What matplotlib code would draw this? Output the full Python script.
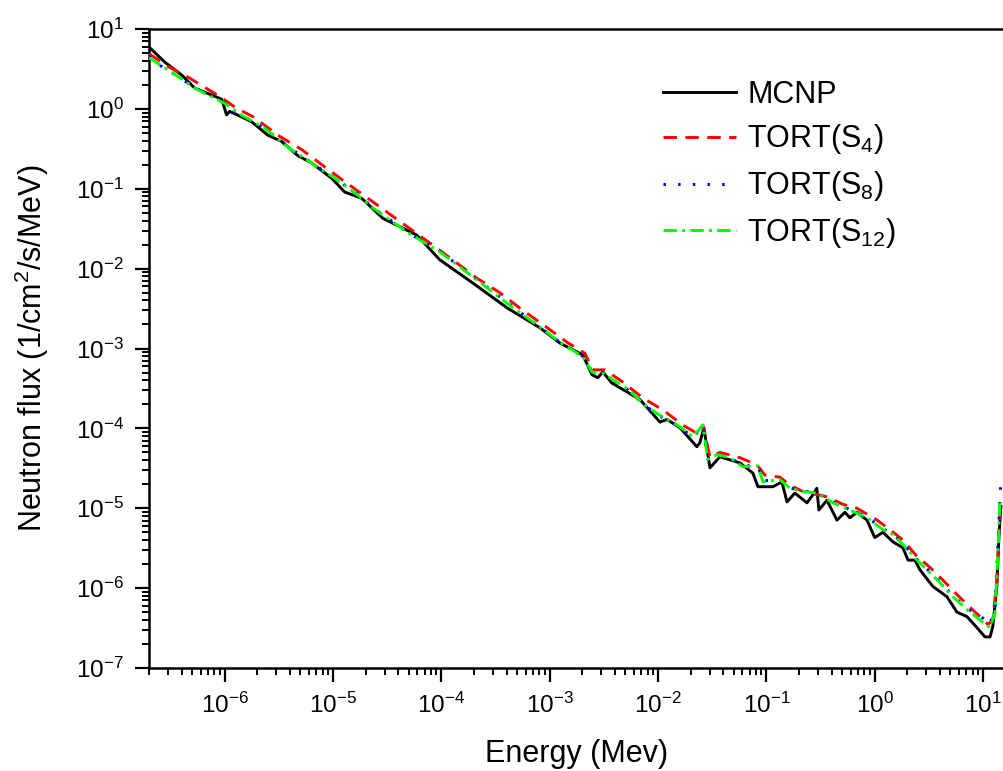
import numpy as np
import matplotlib
matplotlib.use("Agg")
import matplotlib.pyplot as plt
from matplotlib.ticker import FixedLocator, FuncFormatter, NullFormatter

plt.rcParams["font.family"] = ["Liberation Sans", "DejaVu Sans"]
plt.rcParams["mathtext.fontset"] = "custom"
plt.rcParams["mathtext.rm"] = "Liberation Sans"
plt.rcParams["mathtext.it"] = "Liberation Sans:italic"

# energies in MeV, flux in 1/cm2/s/MeV
mcnp_e = [2.0e-7, 2.79e-7, 4.01e-7, 5.28e-7, 7.59e-7, 9.38e-7, 1.04e-6, 1.11e-6,
          1.44e-6, 1.77e-6, 2.49e-6, 3.36e-6, 4.72e-6, 6.36e-6, 9.73e-6, 1.28e-5,
          1.84e-5, 2.88e-5, 5.93e-5, 9.66e-5, 1.95e-4, 4.02e-4, 8.11e-4, 1.24e-3,
          2.02e-3, 2.45e-3, 2.78e-3, 3.09e-3, 3.74e-3, 6.79e-3, 1.04e-2, 1.21e-2,
          1.59e-2, 2.28e-2, 2.43e-2, 2.65e-2, 3.01e-2, 3.72e-2, 5.69e-2, 7.50e-2,
          8.35e-2, 0.115, 0.139, 0.155, 0.183, 0.237, 0.269, 0.292, 0.305, 0.362,
          0.448, 0.531, 0.590, 0.685, 0.848, 1.00, 1.19, 1.47, 1.82, 2.03, 2.35,
          2.61, 3.44, 4.64, 5.74, 7.10, 8.79, 10.4, 11.6, 12.3, 13.4, 14.0, 14.6]
mcnp_f = [5.96, 3.86, 2.65, 1.82, 1.49, 1.32, 0.84, 0.93,
          0.79, 0.69, 0.47, 0.39, 0.26, 0.21, 0.135, 0.091,
          0.076, 0.0427, 0.0263, 0.0129, 6.6e-3, 3.24e-3, 1.82e-3, 1.17e-3,
          8.3e-4, 4.7e-4, 4.3e-4, 5.1e-4, 3.7e-4, 2.3e-4, 1.2e-4, 1.29e-4,
          1.02e-4, 5.9e-5, 6.6e-5, 1.02e-4, 3.2e-5, 4.4e-5, 3.7e-5, 2.75e-5,
          1.86e-5, 1.86e-5, 2.14e-5, 1.2e-5, 1.55e-5, 1.17e-5, 1.48e-5, 1.78e-5, 9.5e-6, 1.26e-5,
          7.1e-6, 8.9e-6, 7.6e-6, 8.9e-6, 7.1e-6, 4.3e-6, 5.0e-6, 3.8e-6, 3.2e-6, 2.24e-6, 2.24e-6,
          1.7e-6, 1.05e-6, 7.8e-7, 5.0e-7, 4.4e-7, 3.2e-7, 2.45e-7, 2.45e-7, 3.3e-7, 1.05e-6, 4.4e-6, 1.05e-5]

s4_e = [2.0e-7, 3.10e-7, 4.55e-7, 6.53e-7, 9.38e-7, 1.24e-6, 1.89e-6, 3.09e-6,
        5.14e-6, 7.87e-6, 1.28e-5, 3.13e-5, 7.82e-5, 1.27e-4, 2.12e-4, 3.46e-4,
        5.65e-4, 8.63e-4, 1.44e-3, 2.11e-3, 2.50e-3, 3.23e-3, 4.73e-3, 7.24e-3,
        1.11e-2, 1.69e-2, 2.28e-2, 2.59e-2, 3.01e-2, 3.72e-2, 5.69e-2, 8.17e-2,
        9.69e-2, 0.133, 0.165, 0.217, 0.370, 0.508, 0.685, 1.05, 1.38, 1.82,
        2.45, 3.24, 4.26, 5.74, 7.57, 9.36, 11.1, 12.3, 13.4, 14.3]
s4_f = [4.9, 3.31, 2.51, 1.86, 1.38, 1.05, 0.776, 0.468,
        0.309, 0.2, 0.123, 0.0513, 0.0209, 0.0129, 7.6e-3, 5.0e-3,
        3.0e-3, 2.0e-3, 1.2e-3, 8.7e-4, 5.4e-4, 5.4e-4, 3.8e-4, 2.4e-4,
        1.7e-4, 1.1e-4, 8.7e-5, 1.1e-4, 4.4e-5, 5.0e-5, 4.3e-5, 3.5e-5,
        2.6e-5, 2.45e-5, 1.95e-5, 1.62e-5, 1.38e-5, 1.12e-5, 1.0e-5, 7.1e-6, 5.4e-6, 4.0e-6,
        2.5e-6, 1.82e-6, 1.26e-6, 8.3e-7, 5.75e-7, 4.4e-7, 3.5e-7, 4.0e-7, 1.26e-6, 1.0e-5]

s8_e = [2.0e-7, 2.41e-7, 3.24e-7, 5.28e-7, 1.0e-6, 1.11e-6, 1.44e-6, 2.34e-6,
        3.82e-6, 6.36e-6, 1.04e-5, 1.69e-5, 2.33e-5, 4.80e-5, 9.66e-5, 1.95e-4,
        4.02e-4, 8.11e-4, 1.24e-3, 2.02e-3, 2.45e-3, 3.09e-3, 5.15e-3, 7.89e-3,
        1.11e-2, 1.59e-2, 2.10e-2, 2.59e-2, 2.88e-2, 3.49e-2, 4.60e-2, 6.07e-2,
        8.35e-2, 9.29e-2, 0.133, 0.165, 0.217, 0.292, 0.411, 0.590, 0.848, 1.19,
        1.47, 1.82, 2.45, 3.03, 4.00, 5.27, 7.10, 8.79, 9.98, 11.6, 12.9, 13.7, 14.6]
s8_f = [4.6, 3.63, 2.85, 1.85, 1.2, 0.95, 0.82, 0.57,
        0.34, 0.21, 0.135, 0.085, 0.058, 0.029, 0.0165, 8.0e-3,
        3.8e-3, 1.85e-3, 1.2e-3, 8.0e-4, 5.2e-4, 4.9e-4, 3.1e-4, 1.85e-4,
        1.35e-4, 1.05e-4, 7.6e-5, 1.08e-4, 4.1e-5, 4.7e-5, 4.3e-5, 3.4e-5,
        3.4e-5, 2.2e-5, 2.3e-5, 1.8e-5, 1.65e-5, 1.55e-5, 1.2e-5, 9.6e-6, 7.8e-6, 5.5e-6,
        4.8e-6, 3.6e-6, 2.3e-6, 1.75e-6, 1.2e-6, 8.0e-7, 5.6e-7, 4.7e-7, 4.2e-7, 3.5e-7, 6.0e-7, 3.5e-6, 2.3e-5]

s12_e = [2.0e-7, 3.24e-7, 5.28e-7, 1.0e-6, 1.44e-6, 2.34e-6, 3.82e-6, 6.36e-6,
         1.04e-5, 1.69e-5, 2.33e-5, 4.80e-5, 9.66e-5, 1.95e-4, 4.02e-4, 8.11e-4,
         1.24e-3, 2.02e-3, 2.45e-3, 3.09e-3, 5.15e-3, 7.89e-3, 1.11e-2, 1.59e-2,
         2.10e-2, 2.59e-2, 2.88e-2, 3.49e-2, 4.60e-2, 6.07e-2, 8.35e-2, 9.29e-2,
         0.133, 0.165, 0.217, 0.292, 0.411, 0.590, 0.848, 1.19, 1.47, 1.82,
         2.45, 3.03, 4.00, 5.27, 7.10, 8.79, 9.98, 11.6, 12.9, 13.7, 14.3]
s12_f = [4.37, 2.88, 1.82, 1.17, 0.83, 0.575, 0.331, 0.209,
         0.135, 0.0832, 0.0575, 0.0288, 0.0162, 7.9e-3, 3.7e-3, 1.86e-3,
         1.2e-3, 7.9e-4, 5.1e-4, 4.9e-4, 3.16e-4, 1.86e-4, 1.38e-4, 1.05e-4,
         7.8e-5, 1.1e-4, 4.1e-5, 4.7e-5, 4.3e-5, 3.3e-5, 3.4e-5, 2.14e-5,
         2.29e-5, 1.78e-5, 1.62e-5, 1.55e-5, 1.17e-5, 9.5e-6, 7.6e-6, 5.4e-6, 4.7e-6, 3.5e-6,
         2.24e-6, 1.7e-6, 1.17e-6, 7.8e-7, 5.4e-7, 4.3e-7, 3.7e-7, 3.2e-7, 4.9e-7, 2.75e-6, 1.26e-5]

labels = ["MCNP", r"TORT(S$_{4}$)", r"TORT(S$_{8}$)", r"TORT(S$_{12}$)"]
x_decades = [-6, -5, -4, -3, -2, -1, 0, 1]
y_decades = [-7, -6, -5, -4, -3, -2, -1, 0, 1]

fig = plt.figure(figsize=(10.04, 7.71), dpi=100)
ax = fig.add_axes([149 / 1004, 103 / 771, 855 / 1004, 639 / 771])

ax.plot(mcnp_e, mcnp_f, color="black", lw=2.1, label=labels[0], zorder=2)
ax.plot(s4_e, s4_f, color="#ff0000", lw=2.1, dashes=(4.6, 2.9), label=labels[1], zorder=3)
ax.plot(s8_e, s8_f, color="#0000ff", lw=2.2, dashes=(0.8, 4.0), label=labels[2], zorder=4)
ax.plot(s12_e, s12_f, color="#00ff00", lw=2.1, dashes=(4.6, 1.8, 1.0, 1.8), label=labels[3], zorder=5)

ax.set_xscale("log")
ax.set_yscale("log")
ax.set_xlim(2.0e-7, 15.6)
ax.set_ylim(1e-7, 1e1)

fmt = FuncFormatter(lambda v, p: r"$\mathregular{10^{%d}}$" % round(np.log10(v)))
xminor = [m * 10.0 ** d for d in range(-7, 2) for m in range(2, 10)]
yminor = [m * 10.0 ** d for d in range(-7, 1) for m in range(2, 10)]
ax.xaxis.set_major_locator(FixedLocator([10.0 ** d for d in x_decades]))
ax.xaxis.set_minor_locator(FixedLocator([v for v in xminor if 2.0e-7 <= v <= 15.6]))
ax.yaxis.set_major_locator(FixedLocator([10.0 ** d for d in y_decades]))
ax.yaxis.set_minor_locator(FixedLocator(yminor))
for axis in (ax.xaxis, ax.yaxis):
    axis.set_major_formatter(fmt)
    axis.set_minor_formatter(NullFormatter())

ax.tick_params(which="major", direction="out", length=10, width=1.6, labelsize=17.5, pad=8)
ax.tick_params(which="minor", direction="out", length=5, width=1.4)
ax.tick_params(top=False, right=False)
for s in ("left", "bottom", "top"):
    ax.spines[s].set_linewidth(1.8)
ax.spines["right"].set_visible(False)

ax.set_xlabel("Energy (Mev)", fontsize=22, labelpad=15)
ax.set_ylabel(r"Neutron flux (1/cm$^{2}$/s/MeV)", fontsize=22, labelpad=18)

ax.legend(loc="upper left", bbox_to_anchor=(0.587, 0.94), frameon=False, fontsize=22,
          handlelength=2.4, handletextpad=0.35, labelspacing=0.42, borderaxespad=0)

fig.savefig("out.png", dpi=100)
